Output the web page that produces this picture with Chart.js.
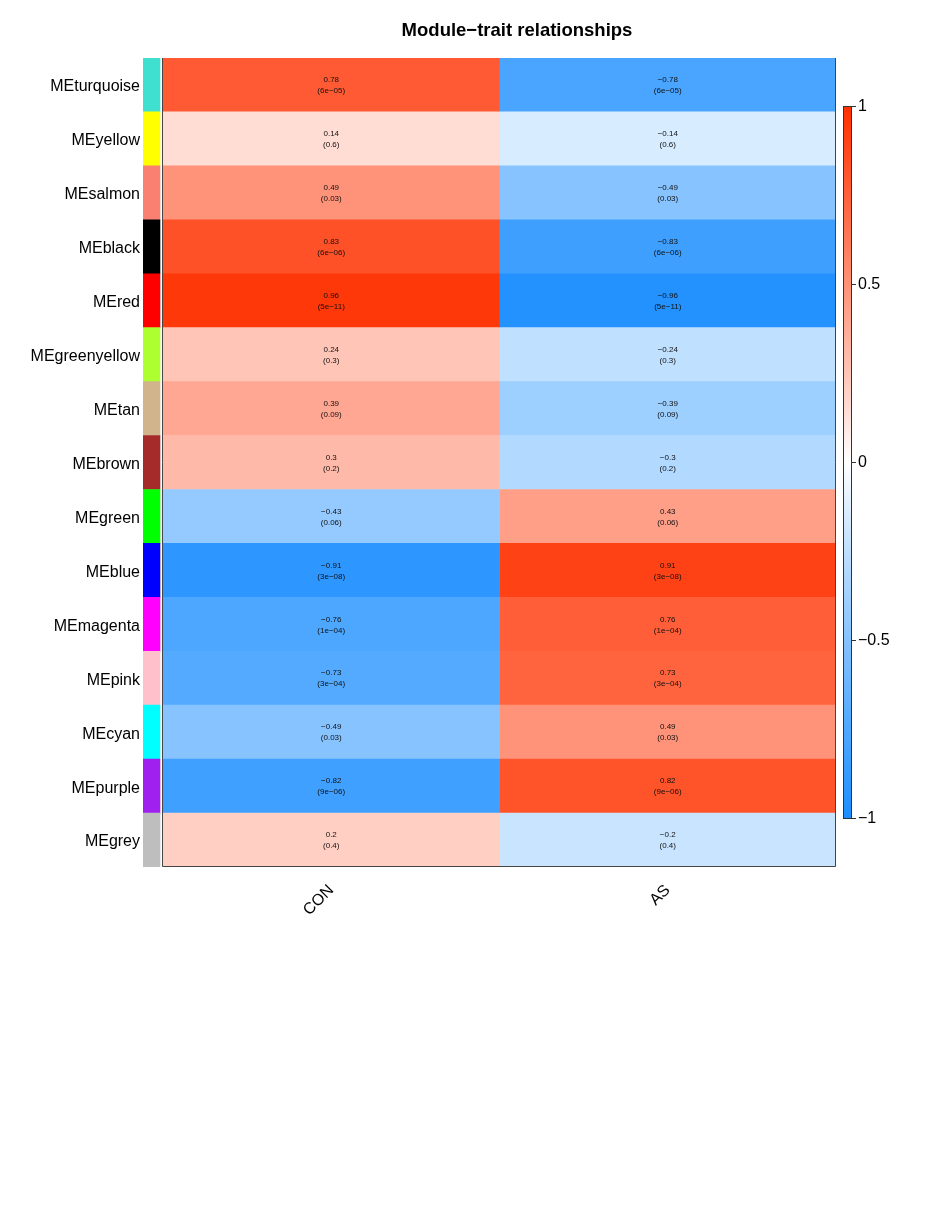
<!DOCTYPE html>
<html lang="en">
<head>
  <meta charset="UTF-8">
  <title>Module-trait relationships</title>
  <script src="https://cdn.jsdelivr.net/npm/chart.js"></script>
  <style>
    body { margin: 0; background: #fff; overflow: hidden; }
    #wrap { width: 928px; height: 1228px; position: relative; }
  </style>
</head>
<body>
  <div id="wrap"><canvas id="heat"></canvas></div>

  <script>
    // data
    const modules = ['MEturquoise', 'MEyellow', 'MEsalmon', 'MEblack', 'MEred', 'MEgreenyellow', 'MEtan',
      'MEbrown', 'MEgreen', 'MEblue', 'MEmagenta', 'MEpink', 'MEcyan', 'MEpurple', 'MEgrey'];
    const moduleColors = ['#40E0D0', '#FFFF00', '#FA8072', '#000000', '#FF0000', '#ADFF2F', '#D2B48C',
      '#A52A2A', '#00FF00', '#0000FF', '#FF00FF', '#FFC0CB', '#00FFFF', '#A020F0', '#BEBEBE'];
    const traits = ['CON', 'AS'];
    const conCor = [0.78, 0.14, 0.49, 0.83, 0.96, 0.24, 0.39, 0.3, -0.43, -0.91, -0.76, -0.73, -0.49, -0.82, 0.2];
    const conP = ['6e-05', '0.6', '0.03', '6e-06', '5e-11', '0.3', '0.09', '0.2', '0.06', '3e-08', '1e-04', '3e-04', '0.03', '9e-06', '0.4'];
    const asCor = [-0.78, -0.14, -0.49, -0.83, -0.96, -0.24, -0.39, -0.3, 0.43, 0.91, 0.76, 0.73, 0.49, 0.82, -0.2];
    const asP = ['6e-05', '0.6', '0.03', '6e-06', '5e-11', '0.3', '0.09', '0.2', '0.06', '3e-08', '1e-04', '3e-04', '0.03', '9e-06', '0.4'];
    const colorbarTicks = [1, 0.5, 0, -0.5, -1];

    const cors = [conCor, asCor];
    const pvals = [conP, asP];
    const stripRange = [-0.0594, -0.0089];
    const FONT = '"Liberation Sans", Arial, sans-serif';

    // blue - white - red
    function corColor(v) {
      const t = Math.pow(Math.min(1, Math.abs(v)), 0.9);
      let c;
      if (v >= 0) c = [255, 255 - t * 206, 255 - t * 255];
      else c = [255 - t * 228, 255 - t * 113, 255];
      return `rgb(${Math.round(c[0])}, ${Math.round(c[1])}, ${Math.round(c[2])})`;
    }
    const minus = s => String(s).replace(/-/g, '\u2212');

    const overlay = {
      id: 'overlay',
      afterDatasetsDraw(chart) {
        const ctx = chart.ctx;
        const x = chart.scales.x, y = chart.scales.y;
        const area = chart.chartArea;

        // cell texts
        ctx.save();
        ctx.fillStyle = '#111';
        ctx.font = '8px ' + FONT;
        ctx.textAlign = 'center';
        ctx.textBaseline = 'middle';
        traits.forEach((t, j) => {
          const cx = x.getPixelForValue(j + 0.5);
          modules.forEach((m, i) => {
            const cy = y.getPixelForValue(i);
            ctx.fillText(minus(cors[j][i]), cx, cy - 5);
            ctx.fillText('(' + minus(pvals[j][i]) + ')', cx, cy + 6);
          });
        });

        // frame of heatmap
        const x0 = x.getPixelForValue(0), x1 = x.getPixelForValue(traits.length);
        ctx.strokeStyle = '#444';
        ctx.lineWidth = 1;
        ctx.beginPath();
        ctx.moveTo(x0 - 0.5, area.top);
        ctx.lineTo(x0 - 0.5, area.bottom - 0.5);
        ctx.lineTo(x1 - 0.5, area.bottom - 0.5);
        ctx.lineTo(x1 - 0.5, area.top);
        ctx.stroke();

        // title
        ctx.fillStyle = '#000';
        ctx.font = 'bold 18.5px ' + FONT;
        ctx.textAlign = 'center';
        ctx.fillText('Module\u2212trait relationships', 517, 31);

        // colour bar
        const bx = area.right + 7, bw = 8;
        const by0 = area.top + 48, by1 = area.bottom - 49;
        const g = ctx.createLinearGradient(0, by0, 0, by1);
        colorbarTicks.concat([0.75, 0.25, -0.25, -0.75]).forEach(v => g.addColorStop((1 - v) / 2, corColor(v)));
        ctx.fillStyle = g;
        ctx.fillRect(bx, by0, bw, by1 - by0);
        ctx.strokeStyle = '#333';
        ctx.strokeRect(bx + 0.5, by0 + 0.5, bw, by1 - by0);
        ctx.font = '16px ' + FONT;
        ctx.textAlign = 'left';
        ctx.fillStyle = '#000';
        colorbarTicks.forEach(v => {
          const ty = by0 + (1 - v) / 2 * (by1 - by0);
          ctx.beginPath();
          ctx.moveTo(bx + bw, Math.round(ty) + 0.5);
          ctx.lineTo(bx + bw + 5, Math.round(ty) + 0.5);
          ctx.stroke();
          ctx.fillText(minus(v), bx + bw + 7, ty + 1);
        });
        ctx.restore();
      }
    };

    const datasets = traits.map((t, j) => ({
      label: t,
      data: modules.map(() => [j, j + 1]),
      backgroundColor: cors[j].map(corColor)
    }));
    datasets.push({
      label: 'module',
      data: modules.map(() => stripRange),
      backgroundColor: moduleColors
    });

    new Chart(document.getElementById('heat'), {
      type: 'bar',
      data: { labels: modules, datasets: datasets },
      options: {
        indexAxis: 'y',
        responsive: true,
        maintainAspectRatio: false,
        animation: false,
        grouped: false,
        barPercentage: 1,
        categoryPercentage: 1,
        borderWidth: 0,
        layout: { padding: { top: 58, right: 92, left: 0, bottom: 0 } },
        plugins: {
          legend: { display: false },
          tooltip: { enabled: false }
        },
        scales: {
          x: {
            type: 'linear',
            min: stripRange[0],
            max: traits.length,
            grid: { display: false },
            border: { display: false },
            afterBuildTicks: scale => { scale.ticks = traits.map((t, i) => ({ value: i + 0.5 })); },
            afterFit: scale => { scale.height = 361; },
            ticks: {
              autoSkip: false,
              minRotation: 45,
              maxRotation: 45,
              padding: 6,
              color: '#000',
              font: { size: 16, family: FONT },
              callback: (v, i) => traits[i]
            }
          },
          y: {
            type: 'category',
            grid: { display: false, drawTicks: false },
            border: { display: false },
            afterFit: scale => { scale.width = 143; },
            ticks: {
              padding: 3,
              labelOffset: 2,
              color: '#000',
              font: { size: 16, family: FONT }
            }
          }
        }
      },
      plugins: [overlay]
    });
  </script>
</body>
</html>
